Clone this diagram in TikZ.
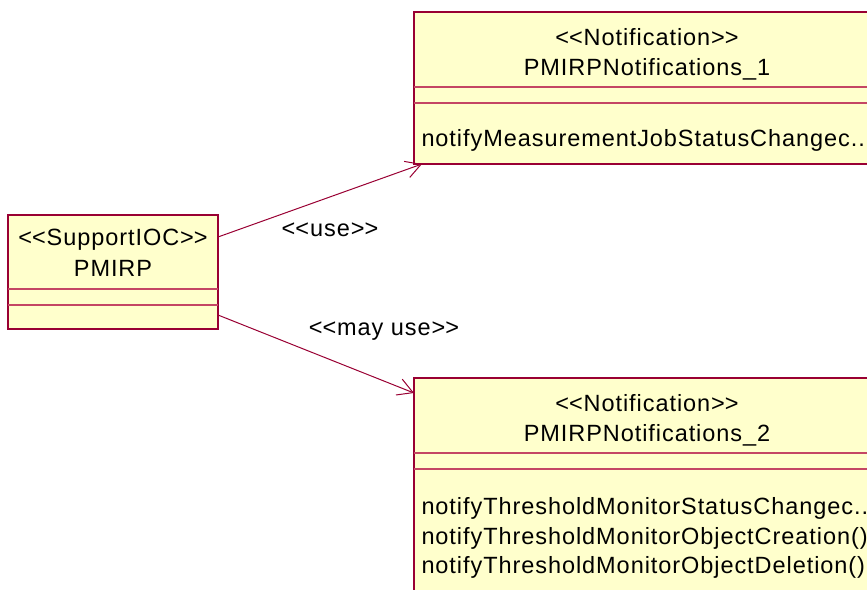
\documentclass[tikz,border=0pt]{standalone}
\usepackage{fontspec}
\setmainfont{Liberation Sans}[LetterSpace=4]
\usetikzlibrary{arrows.meta,calc}
\definecolor{umlborder}{RGB}{153,0,51}
\definecolor{umlsep}{RGB}{196,70,100}
\definecolor{umlfill}{RGB}{255,255,204}
\newcommand{\stereo}[1]{<\kern0pt<#1>\kern0pt>}
\tikzset{every picture/.style={line width=1pt}}
\tikzset{
  classbox/.style={draw=umlborder, fill=umlfill, line width=1.4pt, anchor=north west, inner sep=0pt, outer sep=0pt},
  compartment/.style={draw=umlsep, line width=1.1pt},
  classtext/.style={anchor=base, inner sep=0pt, font=\fontsize{23.5}{29}\selectfont},
  optext/.style={anchor=base west, inner sep=0pt, font=\fontsize{23.5}{29}\selectfont},
  linklabel/.style={inner sep=0pt, font=\fontsize{23.5}{29}\selectfont},
  dependency/.style={draw=umlborder, line width=1pt, -{Straight Barb[length=15pt,width=17pt]}}
}

\begin{document}
\begin{tikzpicture}[x=1pt,y=1pt,yscale=-1,xscale=1]
\useasboundingbox (0,0) rectangle (867,589);
\clip (0,0) rectangle (867,589);

%Class box [id:pmirp]
\node[classbox, minimum width=210pt, minimum height=114pt] (pmirp) at (8,215) {};
\draw[compartment] ($(pmirp.north west)+(0,74)$) -- ($(pmirp.north east)+(0,74)$);
\draw[compartment] ($(pmirp.north west)+(0,90)$) -- ($(pmirp.north east)+(0,90)$);
% Text Node
\node[classtext] (pmirpstereo) at (113,245) {\stereo{SupportIOC}};
% Text Node
\node[classtext] (pmirpname) at (113,276) {PMIRP};

%Class box [id:notif1]
\node[classbox, minimum width=466pt, minimum height=152pt] (notif1) at (414,12) {};
\draw[compartment] ($(notif1.north west)+(0,75)$) -- ($(notif1.north east)+(0,75)$);
\draw[compartment] ($(notif1.north west)+(0,91)$) -- ($(notif1.north east)+(0,91)$);
% Text Node
\node[classtext] (notifstereoa) at (647,45) {\stereo{Notification}};
% Text Node
\node[classtext] (notifnamea) at (647,75) {PMIRPNotifications\_1};
% Text Node
\node[optext] (opjob) at (421,146) {notifyMeasurementJobStatusChangec..};

%Class box [id:notif2]
\node[classbox, minimum width=466pt, minimum height=240pt] (notif2) at (414,378) {};
\draw[compartment] ($(notif2.north west)+(0,75)$) -- ($(notif2.north east)+(0,75)$);
\draw[compartment] ($(notif2.north west)+(0,91)$) -- ($(notif2.north east)+(0,91)$);
% Text Node
\node[classtext] (notifstereob) at (647,411) {\stereo{Notification}};
% Text Node
\node[classtext] (notifnameb) at (647,441) {PMIRPNotifications\_2};
% Text Node
\node[optext] (opstatus) at (421,514) {notifyThresholdMonitorStatusChangec..};
% Text Node
\node[optext] (opcreate) at (421,544) {notifyThresholdMonitorObjectCreation()};
% Text Node
\node[optext] (opdelete) at (421,573) {notifyThresholdMonitorObjectDeletion()};

%Straight Lines [id:use]
\draw[dependency] ($(pmirp.north east)+(0,22)$) -- ($(notif1.south west)+(8,0)$);
%Straight Lines [id:mayuse]
\draw[dependency] ($(pmirp.north east)+(0,100)$) -- ($(notif2.north west)+(0,15)$);

% Text Node
\node[linklabel] (uselabel) at (330,230) {\stereo{use}};
% Text Node
\node[linklabel] (mayuselabel) at (384,331) {\stereo{may use}};
\end{tikzpicture}
\end{document}
